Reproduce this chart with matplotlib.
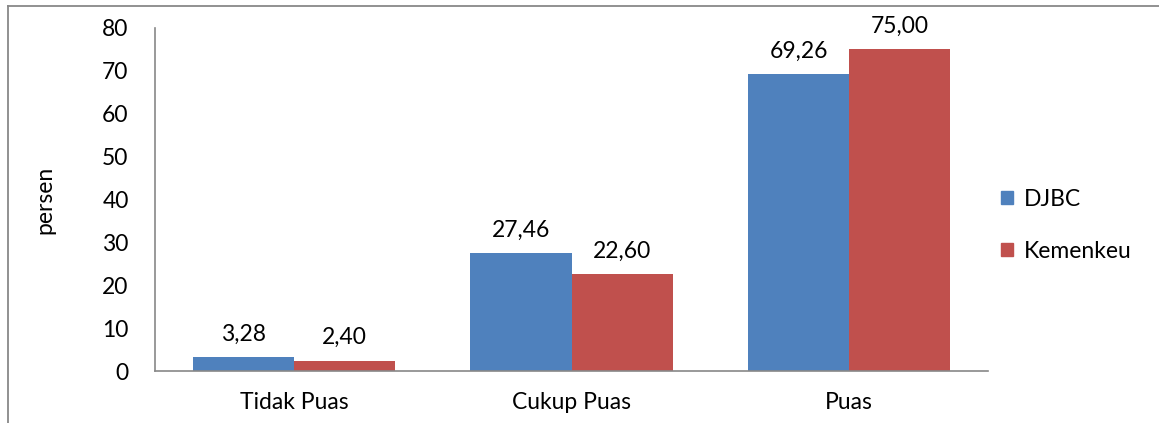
import matplotlib
matplotlib.use("Agg")
import matplotlib.pyplot as plt
import numpy as np
from matplotlib.lines import Line2D
from matplotlib.patches import Patch

categories = ["Tidak Puas", "Cukup Puas", "Puas"]
djbc = [3.28, 27.46, 69.26]
kemenkeu = [2.40, 22.60, 75.00]
series_names = ["DJBC", "Kemenkeu"]
yticks = [0, 10, 20, 30, 40, 50, 60, 70, 80]

plt.rcParams["font.family"] = ["Lato", "DejaVu Sans"]
FS = 16.5

W, H = 1159, 423
fig = plt.figure(figsize=(W / 100, H / 100), dpi=100)

# axes box in pixel coordinates
left, right, top, bottom = 155, 988, 28, 371
ax = fig.add_axes([left / W, 1 - bottom / H, (right - left) / W, (bottom - top) / H])

x = np.arange(len(categories))
bw = 0.364
blue, red = "#4F81BD", "#C0504D"
b1 = ax.bar(x - bw / 2, djbc, bw, color=blue)
b2 = ax.bar(x + bw / 2, kemenkeu, bw, color=red)

for bars, vals in ((b1, djbc), (b2, kemenkeu)):
    for rect, v in zip(bars, vals):
        ax.annotate(f"{v:.2f}".replace(".", ","),
                    (rect.get_x() + rect.get_width() / 2, v),
                    xytext=(0, 9), textcoords="offset points",
                    ha="center", va="bottom", fontsize=FS)

ax.set_xlim(-0.5, len(categories) - 0.5)
ax.set_ylim(0, 80)
ax.set_yticks(yticks)
ax.set_yticklabels([str(t) for t in yticks], fontsize=FS)
ax.set_xticks(x)
ax.set_xticklabels(categories, fontsize=FS)
ax.tick_params(axis="both", length=0)
ax.tick_params(axis="y", pad=19)
ax.tick_params(axis="x", pad=15)
for s in ("top", "right"):
    ax.spines[s].set_visible(False)
for s in ("left", "bottom"):
    ax.spines[s].set_color("#888888")
    ax.spines[s].set_linewidth(1.2)
ax.set_ylabel("persen", fontsize=FS, labelpad=34)

handles = [Patch(color=blue), Patch(color=red)]
leg = fig.legend(handles, series_names, loc="upper left",
                 bbox_to_anchor=(980 / W, 1 - 168 / H), frameon=False,
                 fontsize=FS, handlelength=0.55, handleheight=0.55,
                 handletextpad=0.45, labelspacing=1.35)

# outer chart border (top and left edges)
fig.add_artist(Line2D([8 / W, 8 / W], [0, 1 - 6 / H], transform=fig.transFigure,
                      color="#888888", lw=1.3))
fig.add_artist(Line2D([8 / W, 1], [1 - 6 / H, 1 - 6 / H], transform=fig.transFigure,
                      color="#888888", lw=1.3))

fig.savefig("out.png", dpi=100)
